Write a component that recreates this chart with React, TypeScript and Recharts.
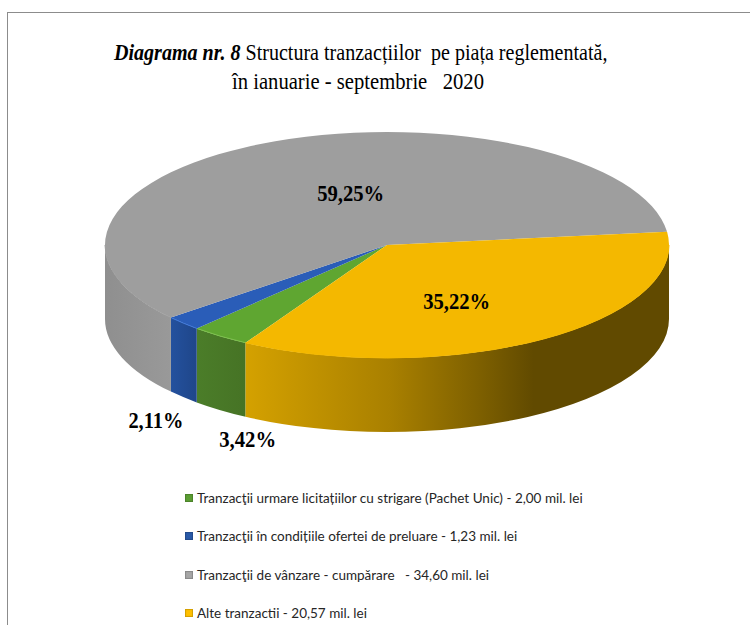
import { Legend, Pie, PieChart, Cell } from "recharts";

const categories = [
  "Tranzacţii urmare licitațiilor cu strigare (Pachet Unic) - 2,00 mil. lei",
  "Tranzacţii în condițiile ofertei de preluare - 1,23 mil. lei",
  "Tranzacţii de vânzare - cumpărare   - 34,60 mil. lei",
  "Alte tranzactii - 20,57 mil. lei",
];
const values = [2.0, 1.23, 34.6, 20.57];
const topColors = ["#5fa631", "#2a5db8", "#9e9e9e", "#f4b800"];
const rimColors = ["#7cc04c", "#3f78d8", "#9e9e9e", "#f4b800"];
const legendColors = ["#5b9e33", "#2a5aa8", "#a6a6a6", "#ffc000"];
const percentLabels = ["3,42%", "2,11%", "59,25%", "35,22%"];

const data = categories.map((name, i) => ({ name, value: values[i] }));

const RX = 282;
const RY = 113;
const DEPTH = 74;
const CX = 387;
const CY = 245;
const START_ANGLE = 239.9;

// label spot as a multiple of the rim point at the middle of the slice
const labelFx = [0.835, 1.135, 0.325, 0.45];
const labelFy = [2.13, 2.24, 0.5, 0.59];
const labelSize = [23, 23, 24, 24];
const labelWidth = [57, 55, 67, 67];

const rad = (a: number) => (a * Math.PI) / 180;
const px = (cx: number, a: number) => cx + RX * Math.cos(rad(a));
const py = (cy: number, a: number) => cy - RY * Math.sin(rad(a));

// part of a slice that faces the viewer, angles run clockwise so from > to
function frontPart(start: number, end: number) {
  const windows = [
    [360, 180],
    [0, -180],
  ];
  for (const [hi, lo] of windows) {
    const from = Math.min(start, hi);
    const to = Math.max(end, lo);
    if (from > to) return [from, to];
  }
  return null;
}

function Slice3D(props: any) {
  const { cx, cy, startAngle, endAngle, index } = props;
  const i = index ?? categories.indexOf(props.name);
  const large = Math.abs(startAngle - endAngle) > 180 ? 1 : 0;
  const top =
    `M${cx},${cy} L${px(cx, startAngle)},${py(cy, startAngle)} ` +
    `A${RX},${RY} 0 ${large} 1 ${px(cx, endAngle)},${py(cy, endAngle)} Z`;
  const front = frontPart(startAngle, endAngle);
  let wall = "";
  let rim = "";
  if (front) {
    const [a, b] = front;
    const x1 = px(cx, a);
    const y1 = py(cy, a);
    const x2 = px(cx, b);
    const y2 = py(cy, b);
    rim = `M${x1},${y1} A${RX},${RY} 0 0 1 ${x2},${y2}`;
    wall =
      `${rim} L${x2},${y2 + DEPTH} ` +
      `A${RX},${RY} 0 0 0 ${x1},${y1 + DEPTH} Z`;
  }
  return (
    <g>
      {wall && <path d={wall} fill={`url(#wall${i})`} />}
      <path d={top} fill={topColors[i]} />
      {rim && <path d={rim} fill="none" stroke={rimColors[i]} strokeWidth={1} />}
    </g>
  );
}

function PercentLabel(props: any) {
  const { cx, cy, midAngle, index } = props;
  const x = cx + RX * Math.cos(rad(midAngle)) * labelFx[index];
  const y = cy - RY * Math.sin(rad(midAngle)) * labelFy[index];
  return (
    <text
      x={x}
      y={y}
      textAnchor="middle"
      dominantBaseline="central"
      fontFamily="'Liberation Serif', serif"
      fontWeight="bold"
      fontSize={labelSize[index]}
      textLength={labelWidth[index]}
      lengthAdjust="spacingAndGlyphs"
      fill="#000"
    >
      {percentLabels[index]}
    </text>
  );
}

function LegendBox(props: any) {
  const items = props.payload ?? [];
  return (
    <div>
      {items.map((entry: any, i: number) => (
        <div
          key={i}
          style={{
            display: "flex",
            alignItems: "center",
            height: 38.3,
            whiteSpace: "pre",
            fontFamily: "Lato, sans-serif",
            fontSize: 13.5,
            color: "#262626",
          }}
        >
          <span
            style={{
              width: 8,
              height: 8,
              marginRight: 4,
              background: legendColors[i],
              boxShadow: "inset 0 0 1px 1px rgba(0,0,0,0.18)",
            }}
          />
          {entry.value}
        </div>
      ))}
    </div>
  );
}

export default function App() {
  return (
    <div style={{ position: "absolute", left: 0, top: 0, width: 750, height: 625, background: "#fff", overflow: "hidden" }}>
      <div
        style={{
          position: "absolute",
          left: 7,
          top: 12,
          width: 760,
          height: 640,
          borderTop: "1px solid #8c8c8c",
          borderLeft: "1px solid #8c8c8c",
        }}
      />
      <PieChart
        width={750}
        height={625}
        margin={{ top: 0, right: 0, bottom: 0, left: 0 }}
        style={{ position: "absolute", left: 0, top: 0 }}
      >
        <defs>
          <linearGradient id="wall0" gradientUnits="userSpaceOnUse" x1={197} x2={246} y1={0} y2={0}>
            <stop offset="0" stopColor="#4b7d29" />
            <stop offset="1" stopColor="#467325" />
          </linearGradient>
          <linearGradient id="wall1" gradientUnits="userSpaceOnUse" x1={171} x2={197} y1={0} y2={0}>
            <stop offset="0" stopColor="#24519e" />
            <stop offset="1" stopColor="#1f4689" />
          </linearGradient>
          <linearGradient id="wall2" gradientUnits="userSpaceOnUse" x1={105} x2={171} y1={0} y2={0}>
            <stop offset="0" stopColor="#8f8f8f" />
            <stop offset="1" stopColor="#999999" />
          </linearGradient>
          <linearGradient id="wall3" gradientUnits="userSpaceOnUse" x1={246} x2={669} y1={0} y2={0}>
            <stop offset="0" stopColor="#d4a100" />
            <stop offset="0.34" stopColor="#a98000" />
            <stop offset="0.55" stopColor="#7e6000" />
            <stop offset="0.68" stopColor="#614a00" />
            <stop offset="1" stopColor="#614a00" />
          </linearGradient>
        </defs>
        <text
          transform="translate(114,60) scale(0.836,1)"
          fontFamily="'Liberation Serif', serif"
          fontSize={24}
          fill="#000"
          xmlSpace="preserve"
        >
          <tspan fontWeight="bold" fontStyle="italic">Diagrama nr. 8</tspan>
          <tspan> Structura tranzacțiilor  pe piața reglementată,</tspan>
        </text>
        <text
          x={358}
          y={89}
          textAnchor="middle"
          fontFamily="'Liberation Serif', serif"
          fontSize={24}
          fill="#000"
          textLength={252}
          lengthAdjust="spacingAndGlyphs"
          xmlSpace="preserve"
        >
          în ianuarie - septembrie   2020
        </text>
        <Pie
          data={data}
          dataKey="value"
          nameKey="name"
          cx={CX}
          cy={CY}
          innerRadius={0}
          outerRadius={RX}
          startAngle={START_ANGLE}
          endAngle={START_ANGLE - 360}
          paddingAngle={0}
          stroke="none"
          isAnimationActive={false}
          shape={Slice3D}
          label={PercentLabel}
          labelLine={false}
        >
          {data.map((d, i) => (
            <Cell key={d.name} fill={legendColors[i]} />
          ))}
        </Pie>
        <Legend
          content={LegendBox}
          itemSorter={null}
          verticalAlign="bottom"
          wrapperStyle={{ position: "absolute", left: 185, top: 479, bottom: "auto", width: 500 }}
        />
      </PieChart>
    </div>
  );
}
